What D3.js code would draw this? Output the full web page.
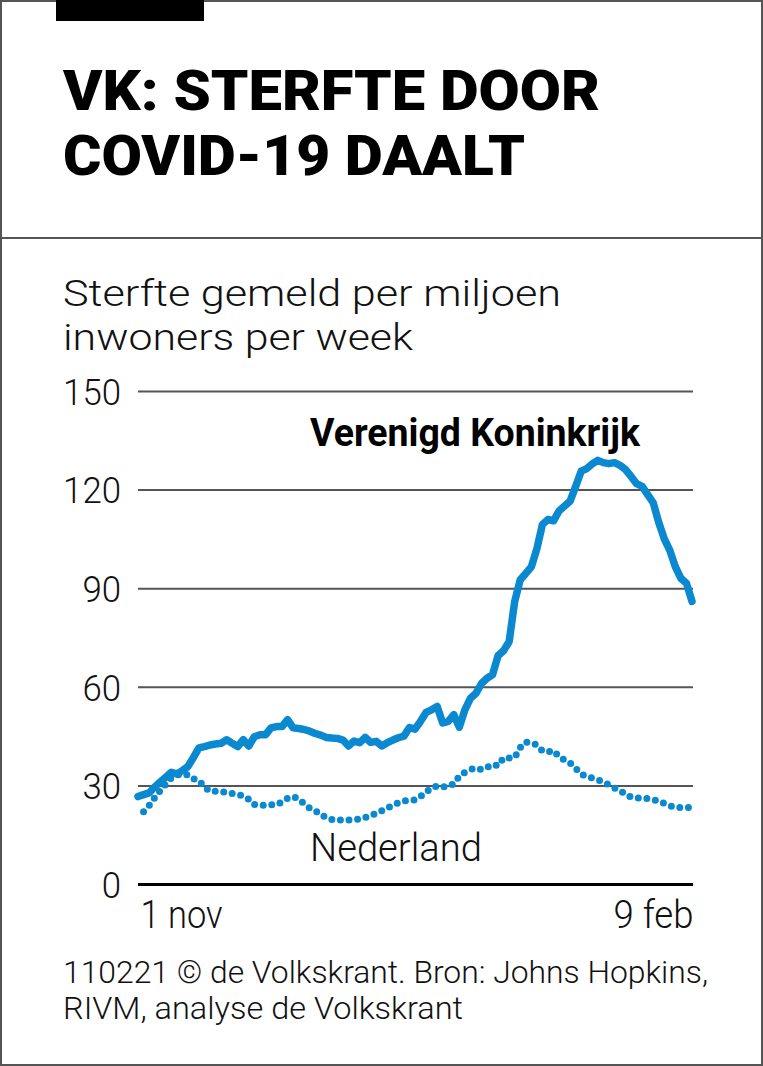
<!DOCTYPE html>
<html><head><meta charset="utf-8">
<script src="https://cdn.jsdelivr.net/npm/d3@7"></script>
<style>
html,body{margin:0;padding:0;background:#fff;}
svg{display:block;}
text{font-family:Roboto,"Noto Sans",sans-serif;fill:#111;}
</style></head>
<body>
<svg id="chart" width="763" height="1066"></svg>
<script>
const titleLines = ["VK: STERFTE DOOR", "COVID-19 DAALT"];
const subtitleLines = ["Sterfte gemeld per miljoen", "inwoners per week"];
const footerLines = ["110221 © de Volkskrant. Bron: Johns Hopkins,", "RIVM, analyse de Volkskrant"];
const startDate = "2020-11-01";
const endDate = "2021-02-09";
const yTicks = [0, 30, 60, 90, 120, 150];
const xTickLabels = ["1 nov", "9 feb"];
const seriesNames = ["Verenigd Koninkrijk", "Nederland"];

// daily values, 1 nov .. 9 feb (101 days)
const vkValues = [26.6,27.2,27.7,29.5,31,32.5,34,33.5,34.5,35.7,
  38.5,41.4,41.8,42.3,42.6,42.8,43.9,42.8,41.8,43.9,
  42,44.8,45.4,45.4,47.5,47.9,47.9,50,47.5,47.3,
  47,46.5,45.8,45.3,44.6,44.4,44.3,43.8,42,43.5,
  43,44.6,43.1,43.4,42,43,43.8,44.5,45,47.6,
  47.1,49.5,52.2,53,54,49,49.5,51.5,47.7,53,
  56.5,58,61,62.6,63.7,69.5,71,73.8,86,92.6,
  94.5,96.5,102,109.4,110.9,110.5,113.5,115,116.5,121,
  125.6,126.4,127.8,128.9,128.2,127.9,128.2,127.4,126.1,124,
  121.8,121,118.5,116,110,105,101.5,96.5,93,91.5,86];
const nlValues = [null,22,23.8,26.2,28.4,30.4,32.3,33.1,33.5,33.2,
  32,31.5,29.5,28.2,28.2,28.2,27.8,27.5,27.3,26.8,
  25.8,24.2,23.9,24,24.1,24.1,25,26.1,26.6,25.8,
  24.4,23.1,22.3,21.2,20.1,19.6,19.5,19.4,19.5,19.6,
  19.7,20.2,20.8,21.5,22.3,23.1,24,24.7,25.3,25.4,
  25.6,26.6,28,29.1,29.9,29.6,29.7,30.5,32.8,34,
  34.8,35.3,34.8,35.5,36.4,36,38.4,38.3,38.5,41.5,
  43.2,42.9,42.3,40.5,40.2,40.6,38.8,37.7,36.8,35.2,
  33.4,32.8,32.2,31.7,31,30.2,29.2,28.4,27.4,26.4,
  26.2,26.1,26,25.7,25.2,24.5,23.8,23.3,23.3,23.3,23.3];

const W = 763, H = 1066;
const blue = "#0a89d1";
const svg = d3.select("#chart");
const parse = d3.utcParse("%Y-%m-%d");
const d0 = parse(startDate), d1 = parse(endDate);
const dates = vkValues.map((_, i) => d3.utcDay.offset(d0, i));

const x = d3.scaleUtc().domain([d0, d1]).range([138, 692]);
const y = d3.scaleLinear().domain([0, 150]).range([884, 391]);

// frame
svg.append("rect").attr("x", 1).attr("y", 1).attr("width", W - 2).attr("height", H - 2)
  .attr("fill", "none").attr("stroke", "#555").attr("stroke-width", 2);
svg.append("rect").attr("x", 56).attr("y", 0).attr("width", 148).attr("height", 21).attr("fill", "#000");
svg.append("line").attr("x1", 0).attr("x2", W).attr("y1", 238).attr("y2", 238)
  .attr("stroke", "#555").attr("stroke-width", 2);

// title
const titleW = [537, 462];
titleLines.forEach((t, i) => {
  svg.append("text").attr("x", 63).attr("y", 110 + i * 65)
    .attr("font-size", 56).attr("font-weight", 900)
    .attr("textLength", titleW[i]).attr("lengthAdjust", "spacingAndGlyphs")
    .style("fill", "#000").text(t);
});

// subtitle
const subW = [498, 350];
subtitleLines.forEach((t, i) => {
  svg.append("text").attr("x", 63).attr("y", 306 + i * 43.5)
    .attr("font-size", 37).attr("font-weight", 300)
    .attr("textLength", subW[i]).attr("lengthAdjust", "spacingAndGlyphs")
    .text(t);
});

// y axis with gridlines
const yAxis = d3.axisLeft(y).tickValues(yTicks).tickSize(-(693 - 138)).tickPadding(17)
  .tickFormat(d3.format("d"));
const gy = svg.append("g").attr("transform", "translate(138,0)").call(yAxis);
gy.select(".domain").remove();
gy.selectAll(".tick line").attr("stroke", "#555").attr("stroke-width", 2);
gy.selectAll(".tick").filter(d => d === 0).select("line").attr("stroke", "#000").attr("stroke-width", 3);
gy.selectAll(".tick text").attr("font-size", 37).attr("font-weight", 300)
  .attr("font-family", "Roboto").attr("x", -17).attr("dy", "0.36em").style("fill", "#111")
  .attr("textLength", d => String(d).length * 19.3).attr("lengthAdjust", "spacingAndGlyphs");

// x labels
const xAxis = d3.axisBottom(x).tickValues([d0, d1]).tickSize(0).tickPadding(0)
  .tickFormat((d, i) => xTickLabels[i]);
const gx = svg.append("g").attr("transform", "translate(0,928)").call(xAxis);
gx.select(".domain").remove();
gx.selectAll(".tick text").attr("font-size", 38).attr("font-weight", 300)
  .attr("font-family", "Roboto").attr("dy", 0).style("fill", "#111")
  .attr("text-anchor", (d, i) => i === 0 ? "start" : "end")
  .attr("x", (d, i) => i === 0 ? 2 : 1)
  .attr("textLength", (d, i) => i === 0 ? 82 : 80).attr("lengthAdjust", "spacingAndGlyphs");

// lines
const line = d3.line().defined(d => d[1] != null).x(d => x(d[0])).y(d => y(d[1]));
svg.append("path").datum(dates.map((d, i) => [d, nlValues[i]]))
  .attr("d", line).attr("fill", "none").attr("stroke", blue)
  .attr("stroke-width", 7).attr("stroke-linecap", "round").attr("stroke-dasharray", "0 8.6");
svg.append("path").datum(dates.map((d, i) => [d, vkValues[i]]))
  .attr("d", line).attr("fill", "none").attr("stroke", blue)
  .attr("stroke-width", 7.5).attr("stroke-linejoin", "round").attr("stroke-linecap", "round");

// series labels
svg.append("text").attr("x", 310).attr("y", 446).attr("font-size", 38).attr("font-weight", 700)
  .attr("textLength", 330).attr("lengthAdjust", "spacingAndGlyphs").style("fill", "#000").text(seriesNames[0]);
svg.append("text").attr("x", 310).attr("y", 861).attr("font-size", 38).attr("font-weight", 300)
  .attr("textLength", 172).attr("lengthAdjust", "spacingAndGlyphs").text(seriesNames[1]);

// footer
const footW = [645, 400];
footerLines.forEach((t, i) => {
  svg.append("text").attr("x", 63).attr("y", 983 + i * 36)
    .attr("font-size", 31).attr("font-weight", 300)
    .attr("textLength", footW[i]).attr("lengthAdjust", "spacingAndGlyphs").text(t);
});
</script>
</body></html>
